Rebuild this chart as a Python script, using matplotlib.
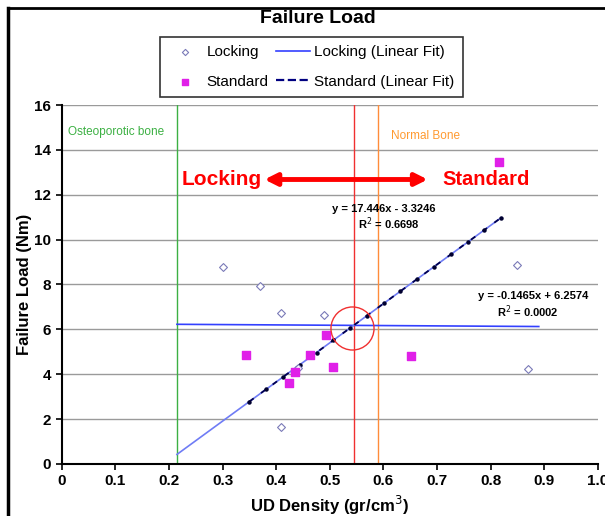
import matplotlib.pyplot as plt
from matplotlib.patches import FancyArrowPatch

plt.rcParams["font.family"] = ["Liberation Sans", "DejaVu Sans"]
plt.rcParams["font.size"] = 11

# Data
locking_x = [0.30, 0.37, 0.41, 0.49, 0.41, 0.44, 0.85, 0.87]
locking_y = [8.8, 7.95, 6.75, 6.65, 1.65, 4.3, 8.85, 4.25]
standard_x = [0.343, 0.463, 0.493, 0.435, 0.424, 0.506, 0.651, 0.815]
standard_y = [4.87, 4.87, 5.76, 4.11, 3.6, 4.33, 4.82, 13.44]

locking_fit = (-0.1465, 6.2574)
standard_fit = (17.446, -3.3246)
locking_fit_range = [0.215, 0.89]
standard_fit_range = [0.215, 0.82]
standard_dash_range = [0.35, 0.82]

osteo_x = 0.215
cross_x = 0.545
normal_x = 0.59

x_ticks = [0, 0.1, 0.2, 0.3, 0.4, 0.5, 0.6, 0.7, 0.8, 0.9, 1.0]
x_tick_labels = ["0", "0.1", "0.2", "0.3", "0.4", "0.5", "0.6", "0.7", "0.8", "0.9", "1.0"]
y_ticks = [0, 2, 4, 6, 8, 10, 12, 14, 16]

fig = plt.figure(figsize=(6.05, 5.16), dpi=100)
ax = fig.add_axes([0.102, 0.1008, 0.886, 0.6957])

# Horizontal gridlines
for yv in y_ticks[1:]:
    ax.axhline(yv, color="#9a9a9a", linewidth=1.0, zorder=0)

# Region lines
ax.axvline(osteo_x, color="#3cb043", linewidth=1.0, zorder=1)
ax.axvline(cross_x, color="#f03030", linewidth=1.0, zorder=1)
ax.axvline(normal_x, color="#ff8c3a", linewidth=1.0, zorder=1)

# Fits
lx = locking_fit_range
ax.plot(lx, [locking_fit[0] * v + locking_fit[1] for v in lx], color="#3340ff", linewidth=1.2, zorder=2)
sx = standard_fit_range
ax.plot(sx, [standard_fit[0] * v + standard_fit[1] for v in sx], color="#6f7cf5", linewidth=1.2, zorder=2)
dx = standard_dash_range
ax.plot(dx, [standard_fit[0] * v + standard_fit[1] for v in dx], color="#000050",
        linestyle=(0, (3, 5)), linewidth=1.3, zorder=3)
n_dots = 16
dots_x = [dx[0] + (dx[1] - dx[0]) * i / (n_dots - 1) for i in range(n_dots)]
ax.plot(dots_x, [standard_fit[0] * v + standard_fit[1] for v in dots_x], color="#000030",
        linestyle="none", marker="o", markersize=2.2, zorder=3)

# Data points
ax.scatter(locking_x, locking_y, marker="D", s=16, facecolors="white", edgecolors="#7a7ab8",
           linewidths=0.8, zorder=4)
ax.scatter(standard_x, standard_y, marker="s", s=26, color="#e020e8", zorder=5)

# Legend handles
h1 = ax.scatter([], [], marker="D", s=10, facecolors="white", edgecolors="#7a7ab8", linewidths=0.8)
h2 = ax.scatter([], [], marker="s", s=20, color="#e020e8")
h3, = ax.plot([], [], color="#3340ff", linewidth=1.2)
h4, = ax.plot([], [], color="#000080", linewidth=1.6, linestyle="--")
leg = fig.legend([h1, h2, h3, h4],
                 ["Locking", "Standard", "Locking (Linear Fit)", "Standard (Linear Fit)"],
                 ncol=2, loc="center", bbox_to_anchor=(0.515, 0.870), frameon=True,
                 fancybox=False, edgecolor="black", fontsize=11, handlelength=2.2,
                 columnspacing=0.5, handletextpad=0.3, borderpad=0.55, labelspacing=1.0)
leg.get_frame().set_linewidth(1.2)

# Red circle at crossing
ax.plot([0.541], [6.07], marker="o", markersize=31, fillstyle="none", color="#f03030",
        markeredgewidth=1.0, zorder=6)

# Arrow and labels
arrow = FancyArrowPatch((0.373, 12.68), (0.688, 12.68), arrowstyle="<|-|>", mutation_scale=18,
                        color="#ff0000", linewidth=3.5, zorder=6)
ax.add_patch(arrow)
ax.text(0.373, 12.68, "Locking", color="#ff0000", fontsize=15, fontweight="bold",
        ha="right", va="center")
ax.text(0.710, 12.68, "Standard", color="#ff0000", fontsize=14.5, fontweight="bold",
        ha="left", va="center")

ax.text(0.012, 14.8, "Osteoporotic bone", color="#3cb043", fontsize=8.5, va="center")
ax.text(0.614, 14.6, "Normal Bone", color="#ff9a30", fontsize=8.5, va="center")

ax.text(0.60, 11.35, "y = 17.446x - 3.3246", fontsize=8, fontweight="bold", ha="center", va="center")
ax.text(0.61, 10.7, "R$^2$ = 0.6698", fontsize=8, fontweight="bold", ha="center", va="center")
ax.text(0.88, 7.5, "y = -0.1465x + 6.2574", fontsize=8, fontweight="bold", ha="center", va="center")
ax.text(0.87, 6.8, "R$^2$ = 0.0002", fontsize=8, fontweight="bold", ha="center", va="center")

ax.set_xlim(0, 1.0)
ax.set_ylim(0, 16)
ax.set_xticks(x_ticks)
ax.set_xticklabels(x_tick_labels)
ax.set_yticks(y_ticks)
ax.tick_params(labelsize=11, width=1.2, length=4, direction="out")
for lbl in ax.get_xticklabels() + ax.get_yticklabels():
    lbl.set_fontweight("bold")
ax.spines["top"].set_visible(False)
ax.spines["right"].set_visible(False)
ax.spines["left"].set_linewidth(1.5)
ax.spines["bottom"].set_linewidth(1.5)
ax.set_facecolor("white")

ax.set_xlabel("UD Density (gr/cm$^3$)", fontsize=12, fontweight="bold", labelpad=4)
ax.set_ylabel("Failure Load (Nm)", fontsize=12, fontweight="bold", labelpad=2)
fig.text(0.525, 0.965, "Failure Load", fontsize=14, fontweight="bold", ha="center", va="center")

# Frame lines of the scanned figure
fig.add_artist(plt.Line2D([0.013, 0.013], [0.0, 0.985], color="black", linewidth=2.5))
fig.add_artist(plt.Line2D([0.013, 1.0], [0.985, 0.985], color="black", linewidth=2.0))

fig.savefig("out.png", dpi=100)
